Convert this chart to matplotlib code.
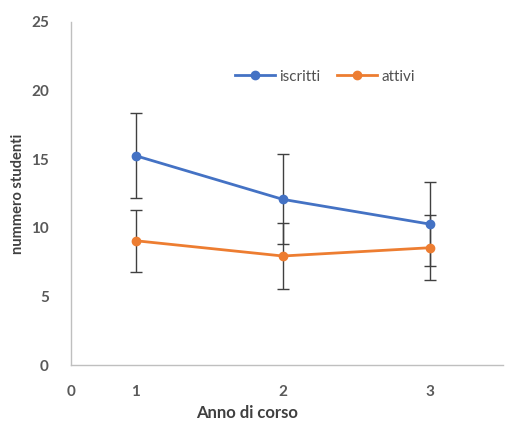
import matplotlib
matplotlib.use("Agg")
import matplotlib.pyplot as plt

# dati
anni = [1, 2, 3]
iscritti = [15.25, 12.08, 10.28]
iscritti_err = [3.09, 3.28, 3.03]
attivi = [9.07, 7.96, 8.56]
attivi_err = [2.25, 2.38, 2.38]
y_ticks = [0, 5, 10, 15, 20, 25]
x_tick_labels = ["0", "1", "2", "3"]

plt.rcParams['font.family'] = ['Lato', 'DejaVu Sans']

blu = '#4472C4'
arancio = '#ED7D31'
grigio = '#595959'

fig = plt.figure(figsize=(5.15, 4.24), dpi=100)
ax = fig.add_axes([0.138, 0.138, 0.839, 0.811])

x_min, x_max = 0.56, 3.5

for valori, errori, colore, nome in [(iscritti, iscritti_err, blu, 'iscritti'),
                                     (attivi, attivi_err, arancio, 'attivi')]:
    ax.errorbar(anni, valori, yerr=errori, fmt='none', ecolor='#404040',
                elinewidth=1.0, capsize=4, capthick=1.0, zorder=2)
    ax.plot(anni, valori, color=colore, lw=2.0, marker='o', markersize=6,
            label=nome, zorder=3)

ax.set_xlim(x_min, x_max)
ax.set_ylim(0, 25)
ax.set_yticks(y_ticks)
ax.set_xticks([x_min] + anni)
ax.set_xticklabels(x_tick_labels)

for s in ['top', 'right']:
    ax.spines[s].set_visible(False)
for s in ['left', 'bottom']:
    ax.spines[s].set_color('#BFBFBF')
    ax.spines[s].set_linewidth(1.0)

ax.tick_params(axis='both', length=0, labelsize=11, labelcolor=grigio)
ax.tick_params(axis='y', pad=16)
ax.tick_params(axis='x', pad=14)
for lab in ax.get_xticklabels() + ax.get_yticklabels():
    lab.set_fontweight('bold')

ax.set_ylabel('nummero studenti', fontsize=10.5, fontweight='bold', color='#404040')
ax.set_xlabel('Anno di corso', fontsize=12, fontweight='bold', color='#404040')
ax.yaxis.set_label_coords(-0.107, 0.5)
ax.xaxis.set_label_coords(0.407, -0.115)

leg = ax.legend(ncol=2, frameon=False, loc='center', bbox_to_anchor=(0.588, 0.84),
                fontsize=11, handlelength=2.6, columnspacing=1.1, handletextpad=0.3)
for t in leg.get_texts():
    t.set_color('#505050')

fig.savefig('out.png', dpi=100)
